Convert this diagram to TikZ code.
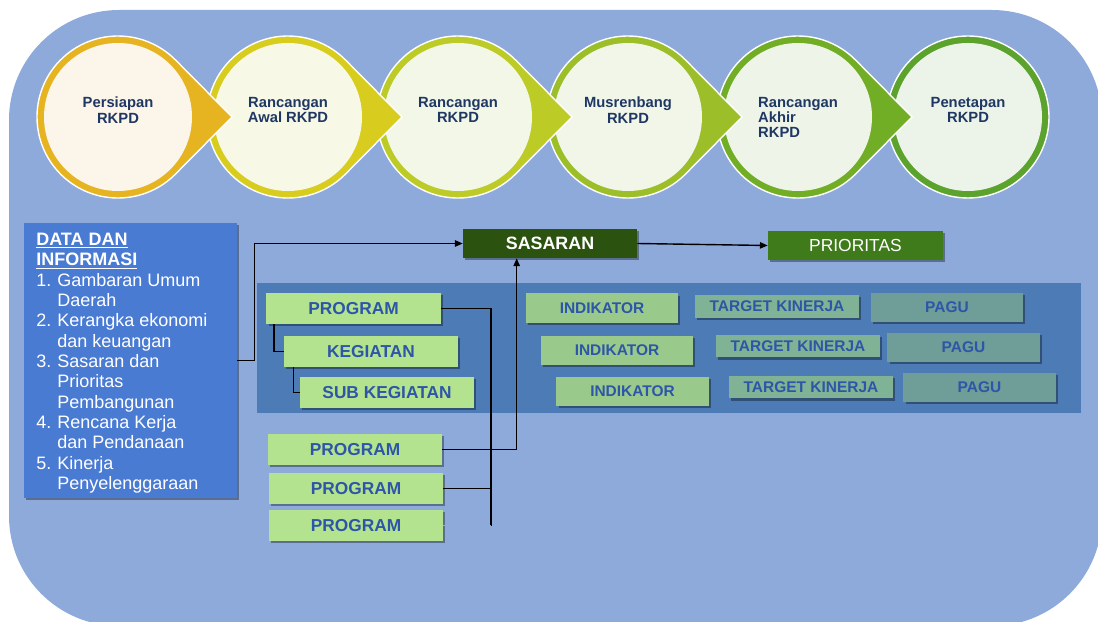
\documentclass[tikz,border=0pt]{standalone}
\usepackage{fontspec}
\setmainfont{Liberation Sans}
\usetikzlibrary{calc, shadows, arrows.meta}

\definecolor{bgBlue}{HTML}{8EAADB}
\definecolor{panelBlue}{HTML}{4D7BB5}
\definecolor{dataBlue}{HTML}{4A7BD3}
\definecolor{progGreen}{HTML}{B4E38F}
\definecolor{boxText}{HTML}{2E56A8}
\definecolor{stageText}{HTML}{1F3763}
\definecolor{indGreen}{HTML}{9ACA8B}
\definecolor{targetGreen}{HTML}{80B295}
\definecolor{paguGreen}{HTML}{6F9D97}
\definecolor{sasGreen}{HTML}{2C5210}
\definecolor{prioGreen}{HTML}{3F7B1B}
\definecolor{greenLine}{HTML}{9BBB59}
\definecolor{ringA}{HTML}{E6B321}
\definecolor{ringB}{HTML}{D8CD1E}
\definecolor{ringC}{HTML}{BCCB25}
\definecolor{ringD}{HTML}{9CBE29}
\definecolor{ringE}{HTML}{72AE25}
\definecolor{ringF}{HTML}{5BA32C}
\definecolor{innA}{HTML}{FCF5E9}
\definecolor{innB}{HTML}{F8F8E7}
\definecolor{innC}{HTML}{F3F7E7}
\definecolor{innD}{HTML}{F1F6E9}
\definecolor{innE}{HTML}{EEF5E8}
\definecolor{innF}{HTML}{ECF4E9}

\newcommand{\numitem}[1]{\makebox[15pt][l]{#1}}
\newcommand{\numgap}{\hspace*{15pt}}

\begin{document}
\begin{tikzpicture}[x=0.025cm, y=-0.025cm,
    boxshadow/.style={drop shadow={shadow xshift=1.5pt, shadow yshift=-1.5pt, opacity=0.35, fill=black}},
    stagetext/.style={anchor=north, text=stageText, font=\fontsize{10.5}{10.7}\selectfont\bfseries, inner sep=0pt},
    progbox/.style={fill=progGreen, text=boxText, font=\fontsize{12.3}{14}\selectfont\bfseries, minimum width=4.35cm, minimum height=0.775cm, inner sep=0pt, boxshadow},
    infobox/.style={text=boxText, font=\fontsize{11}{13}\selectfont\bfseries, minimum width=3.8cm, minimum height=0.725cm, inner sep=0pt, boxshadow},
    link/.style={draw=black, line width=1pt},
    arrowlink/.style={link, -{Triangle[length=5.5pt, width=4.5pt]}}]

\useasboundingbox (0,0) rectangle (1098,622);

% background
\fill[bgBlue, rounded corners=2.75cm] (9,10) rectangle (1102,626);

% stages, drawn from the last one so each tip lies over the next circle
\foreach \i/\ringc/\innc/\al/\lbl in {5/ringF/innF/center/{Penetapan\\RKPD},
    4/ringE/innE/left/{Rancangan\\Akhir\\RKPD}, 3/ringD/innD/center/{Musrenbang\\RKPD},
    2/ringC/innC/center/{Rancangan\\RKPD}, 1/ringB/innB/center/{Rancangan\\Awal RKPD},
    0/ringA/innA/center/{Persiapan\\RKPD}}{
  \pgfmathsetmacro{\cx}{118+170*\i}
  \ifnum\i<5
    \filldraw[fill=\ringc, draw=white, line width=1pt] (\cx+114,117) -- ($(\cx,117)+(44:81)$)
      arc[start angle=44, end angle=316, radius=81] -- cycle;
  \else
    \filldraw[fill=\ringc, draw=white, line width=1pt] (\cx,117) circle[radius=81];
  \fi
  \fill[\innc] (\cx,117) circle[radius=74];
  \node[stagetext, align=\al] (st\i) at (\cx,97) {\lbl};
}

% data dan informasi
\node[fill=dataBlue, minimum width=5.325cm, minimum height=6.875cm, inner sep=0pt, boxshadow] (data) at (130.5,360.5) {};
\node[anchor=north west, align=left, text=white, inner sep=0pt,
      font=\fontsize{12.8}{14.45}\selectfont] (datalist) at (36,233) {%
  \underline{\textbf{DATA DAN}}\\
  \underline{\textbf{INFORMASI}}\\
  \numitem{1.}Gambaran Umum\\
  \numgap Daerah\\
  \numitem{2.}Kerangka ekonomi\\
  \numgap dan keuangan\\
  \numitem{3.}Sasaran dan\\
  \numgap Prioritas\\
  \numgap Pembangunan\\
  \numitem{4.}Rencana Kerja\\
  \numgap dan Pendanaan\\
  \numitem{5.}Kinerja\\
  \numgap Penyelenggaraan};

% panel
\node[fill=panelBlue, minimum width=20.6cm, minimum height=3.25cm, inner sep=0pt] (panel) at (669,348) {};

% sasaran and prioritas
\node[fill=sasGreen, text=white, font=\fontsize{12.7}{14}\selectfont\bfseries, minimum width=4.35cm, minimum height=0.725cm, inner sep=0pt, boxshadow] (sasaran) at (550,243.5) {SASARAN};
\node[fill=prioGreen, text=white, font=\fontsize{12.4}{14}\selectfont, minimum width=4.375cm, minimum height=0.725cm, inner sep=0pt, boxshadow] (prioritas) at (855.5,245.5) {PRIORITAS};

% program hierarchy
\node[progbox] (prog1) at (353.5,308.5) {PROGRAM};
\node[progbox] (keg) at (371,351.5) {KEGIATAN};
\node[progbox] (subkeg) at (387,392.5) {SUB KEGIATAN};
\node[progbox] (prog2) at (355,449.5) {PROGRAM};
\node[progbox] (prog3) at (356,488.5) {PROGRAM};
\node[progbox] (prog4) at (356,525.5) {PROGRAM};

% indikator, target kinerja, pagu
\foreach \r/\ix/\iy/\tx/\ty/\px/\py in {1/602/308/777/306.5/947/307.5,
    2/617/350.5/798/346/963.5/347.5, 3/632.5/391.5/811/387/979.5/387.5}{
  \node[infobox, fill=indGreen] (ind\r) at (\ix,\iy) {INDIKATOR};
  \node[infobox, fill=targetGreen, minimum width=4.1cm, minimum height=0.57cm] (target\r) at (\tx,\ty) {TARGET KINERJA};
  \node[infobox, fill=paguGreen] (pagu\r) at (\px,\py) {PAGU};
}

% connectors
\coordinate (busend) at (491,525.5);
\draw[arrowlink] (data.east) -- ++(17,0) |- (sasaran.west);
\draw[arrowlink] (sasaran.east) -- (prioritas.west);
\draw[link] ($(prog1.south west)+(8,0)$) |- (keg.west);
\draw[link] ($(keg.south west)+(10,0)$) |- (subkeg.west);
\draw[link] (prog1.east) -| (busend);
\draw[link] (prog3.east) -- (prog3.east -| busend);
\draw[link, draw=greenLine] (prog4.east) -- (prog4.east -| busend);
\draw[arrowlink] (prog2.east) -| ($(sasaran.south west)+(54,0)$);

\end{tikzpicture}
\end{document}
